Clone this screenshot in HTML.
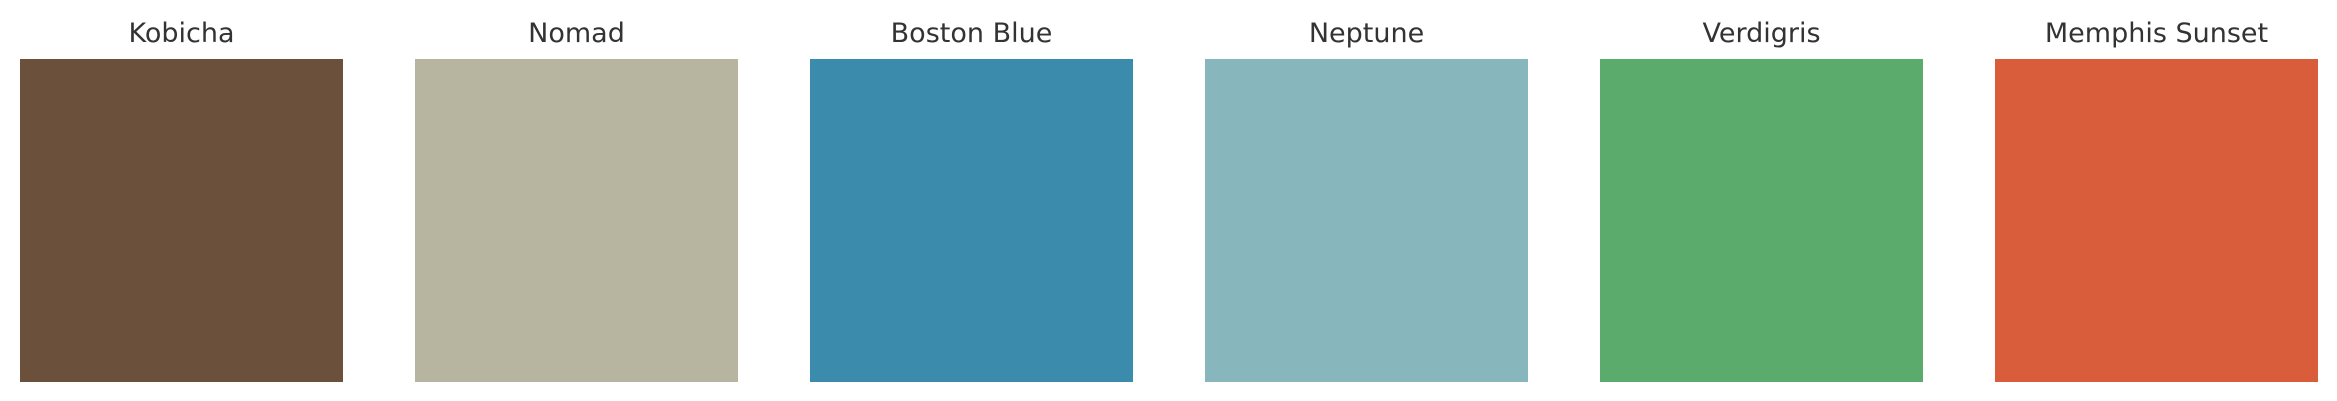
<!DOCTYPE html>
<html><head><meta charset="utf-8"><style>
html,body{margin:0;padding:0;background:#fff;width:2337px;height:401px;overflow:hidden}
</style></head><body>
<svg id="chart" width="2337" height="401" xmlns="http://www.w3.org/2000/svg"></svg>
<script>
const names = ["Kobicha","Nomad","Boston Blue","Neptune","Verdigris","Memphis Sunset"];
const colors = ["#6b503b","#b7b5a0","#3b8bac","#87b7bc","#5aab6c","#d95d3a"];
const svgEl = document.getElementById('chart');
const NS = 'http://www.w3.org/2000/svg';
const x0 = 20, pitch = 395, size = 323, y0 = 59;
names.forEach((n, i) => {
  const x = x0 + i * pitch;
  const r = document.createElementNS(NS, 'rect');
  r.setAttribute('x', x); r.setAttribute('y', y0);
  r.setAttribute('width', size); r.setAttribute('height', size);
  r.setAttribute('fill', colors[i]);
  
  
  svgEl.appendChild(r);
  const t = document.createElementNS(NS, 'text');
  t.setAttribute('x', x + size / 2); t.setAttribute('y', 42);
  t.setAttribute('text-anchor', 'middle');
  t.setAttribute('font-family', '"DejaVu Sans", "Liberation Sans", sans-serif');
  t.setAttribute('font-size', '27');
  t.setAttribute('fill', '#333333');
  t.textContent = n;
  
  
  svgEl.appendChild(t);
});
</script>
</body></html>
